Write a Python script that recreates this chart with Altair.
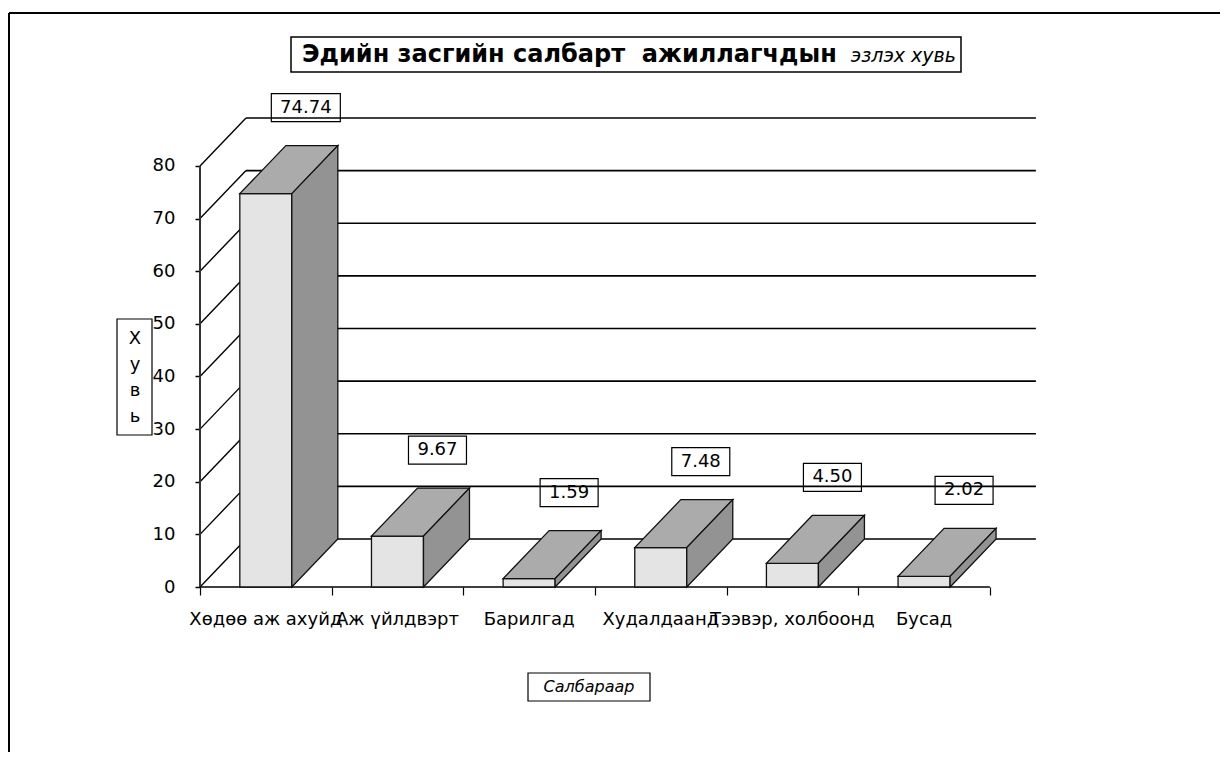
import altair as alt
import pandas as pd

# ---------------- data ----------------
categories = ["Хөдөө аж ахуйд", "Аж үйлдвэрт", "Барилгад", "Худалдаанд", "Тээвэр, холбоонд", "Бусад"]
values = [74.74, 9.67, 1.59, 7.48, 4.50, 2.02]
y_ticks = [0, 10, 20, 30, 40, 50, 60, 70, 80]
title_bold = "Эдийн засгийн салбарт\u00a0 ажиллагчдын"
title_italic = "эзлэх хувь"
x_title = "Салбараар"
y_title_letters = ["Х", "у", "в", "ь"]

# ---------------- geometry (styles) ----------------
N = len(categories)
PXC = 131.65          # pixels per category
PXV = 5.263           # pixels per percent
DEPTH_X, DEPTH_Y = 46, 48   # 3-D depth in pixels
W = round(PXC * N + DEPTH_X)
H = 470
XMAX = W / PXC
YMAX = H / PXV
DX = DEPTH_X / PXC
DY = DEPTH_Y / PXV
HALF = 26 / PXC
LBL_DX = 40 / PXC

FONT = "DejaVu Sans"
FRONT, TOP, SIDE = "#e4e4e4", "#ababab", "#939393"

xs = alt.Scale(domain=[0, XMAX], nice=False, zero=False)
ys = alt.Scale(domain=[0, YMAX], nice=False, zero=False)

XA = alt.Axis(values=list(range(N + 1)), labels=False, domain=False, grid=False, tickSize=8,
              tickColor="black", tickWidth=1.2, title=None)
YA = alt.Axis(values=y_ticks, domain=False, grid=False, tickSize=5, tickColor="black",
              tickWidth=1.5, labelPadding=20, labelFontSize=18, labelFont=FONT,
              labelColor="black", title=None)


def X(f):
    return alt.X(f, scale=xs, axis=XA)


def Y(f):
    return alt.Y(f, scale=ys, axis=YA)


bars = pd.DataFrame({"cat": categories, "value": values, "idx": range(N)})
bars["xl"] = bars["idx"] + 0.5 - HALF
bars["xr"] = bars["idx"] + 0.5 + HALF
bars["xc"] = bars["idx"] + 0.5
bars["y0"] = 0.0
bars["lx"] = bars["xc"] + LBL_DX
bars["lbl"] = [f"{v:.2f}" for v in values]
bars["hw"] = [(len(s) * 11 + 14) / 2 / PXC for s in bars["lbl"]]
bars["bxl"] = bars["lx"] - bars["hw"]
bars["bxr"] = bars["lx"] + bars["hw"]

top_rows, side_rows = [], []
for _, r in bars.iterrows():
    top_rows.append({"cat": r["cat"], "y": r["value"], "x": r["xl"], "x2": r["xr"]})
    top_rows.append({"cat": r["cat"], "y": r["value"] + DY, "x": r["xl"] + DX, "x2": r["xr"] + DX})
    side_rows.append({"cat": r["cat"], "x": r["xr"], "y": 0.0, "y2": r["value"]})
    side_rows.append({"cat": r["cat"], "x": r["xr"] + DX, "y": DY, "y2": r["value"] + DY})
top_df = pd.DataFrame(top_rows)
side_df = pd.DataFrame(side_rows)

grid = pd.DataFrame({"v": y_ticks})
grid["x0"] = 0.0
grid["xd"] = DX
grid["xe"] = N + DX
grid["yb"] = grid["v"] + DY

axis_df = pd.DataFrame({"x": [0.0], "x2": [float(N)], "y": [0.0], "y2": [float(max(y_ticks))]})

# ---------------- layers ----------------
back_grid = alt.Chart(grid).mark_rule(color="black", strokeWidth=1.6).encode(
    x=X("xd:Q"), x2="xe:Q", y=Y("yb:Q"))

diag = alt.Chart(grid).mark_rule(color="black", strokeWidth=1.4).encode(
    x=X("x0:Q"), x2="xd:Q", y=Y("v:Q"), y2="yb:Q")

y_axis_line = alt.Chart(axis_df).mark_rule(color="#333333", strokeWidth=2).encode(
    x=X("y:Q"), y=Y("y:Q"), y2="y2:Q")

floor_line = alt.Chart(axis_df).mark_rule(color="black", strokeWidth=1.6).encode(
    x=X("x:Q"), x2="x2:Q", y=Y("y:Q"))

front = alt.Chart(bars).mark_rect(fill=FRONT, stroke="#111111", strokeWidth=1.3).encode(
    x=X("xl:Q"), x2="xr:Q", y=Y("y0:Q"), y2="value:Q")

top = alt.Chart(top_df).mark_area(orient="horizontal", fill=TOP, stroke="#111111",
                                  strokeWidth=1.3, opacity=1).encode(
    y=Y("y:Q"), x=X("x:Q"), x2="x2:Q", detail="cat:N")

side = alt.Chart(side_df).mark_area(orient="vertical", fill=SIDE, stroke="#111111",
                                    strokeWidth=1.3, opacity=1).encode(
    x=X("x:Q"), y=Y("y:Q"), y2="y2:Q", detail="cat:N")

cat_labels = alt.Chart(bars).mark_text(font=FONT, fontSize=18, color="black", baseline="middle",
                                       align="center", yOffset=33).encode(
    x=X("xc:Q"), y=Y("y0:Q"), text="cat:N")

val_boxes = alt.Chart(bars).mark_rect(fillOpacity=0, stroke="black", strokeWidth=1.2,
                                      yOffset=-100, y2Offset=-72).encode(
    x=X("bxl:Q"), x2="bxr:Q", y=Y("value:Q"), y2="value:Q")

val_text = alt.Chart(bars).mark_text(font=FONT, fontSize=18, color="black", baseline="middle",
                                     align="center", yOffset=-86).encode(
    x=X("lx:Q"), y=Y("value:Q"), text=alt.Text("value:Q", format=".2f"))

# ---------------- titles and frame ----------------
one = pd.DataFrame({"bold": [title_bold], "ital": [title_italic], "xt": [x_title]})

frame_top = alt.Chart(one).mark_rule(color="black", strokeWidth=2).encode(
    x=alt.value(-191), x2=alt.value(1100), y=alt.value(-104))
frame_left = alt.Chart(one).mark_rule(color="black", strokeWidth=2).encode(
    x=alt.value(-191), y=alt.value(-104), y2=alt.value(700))

title_box = alt.Chart(one).mark_rect(fill="white", stroke="black", strokeWidth=1.5).encode(
    x=alt.value(91), x2=alt.value(761), y=alt.value(-80), y2=alt.value(-45))
title_b = alt.Chart(one).mark_text(font=FONT, fontSize=24, fontWeight="bold", align="left",
                                   baseline="middle", color="black").encode(
    x=alt.value(102), y=alt.value(-62), text="bold:N")
title_i = alt.Chart(one).mark_text(font=FONT, fontSize=19, fontStyle="italic", align="right",
                                   baseline="middle", color="black").encode(
    x=alt.value(756), y=alt.value(-61), text="ital:N")

xt_box = alt.Chart(one).mark_rect(fill="white", stroke="black", strokeWidth=1.2).encode(
    x=alt.value(328), x2=alt.value(450), y=alt.value(556), y2=alt.value(584))
xt_text = alt.Chart(one).mark_text(font=FONT, fontSize=16, fontStyle="italic", align="center",
                                   baseline="middle", color="black").encode(
    x=alt.value(389), y=alt.value(570), text="xt:N")

yt_box = alt.Chart(one).mark_rect(fill="white", stroke="black", strokeWidth=1.2).encode(
    x=alt.value(-83), x2=alt.value(-48), y=alt.value(202), y2=alt.value(318))
yt_text = alt.Chart(one).mark_text(font=FONT, fontSize=18, align="center", baseline="middle",
                                   color="black", lineHeight=26, text=y_title_letters).encode(
    x=alt.value(-65), y=alt.value(222))

chart = alt.layer(
    frame_top, frame_left, back_grid, diag, y_axis_line, floor_line, front, top, side,
    cat_labels, val_boxes, val_text, title_box, title_b, title_i, xt_box, xt_text, yt_box, yt_text
).properties(
    width=W, height=H,
    autosize=alt.AutoSizeParams(type="none"),
    padding={"left": 192, "top": 109, "right": 1212 - 192 - W, "bottom": 165},
).configure(background="white", view=alt.ViewConfig(strokeWidth=0, stroke="transparent"))

chart.save("out.html", embed_options={"renderer": "svg", "actions": False})
